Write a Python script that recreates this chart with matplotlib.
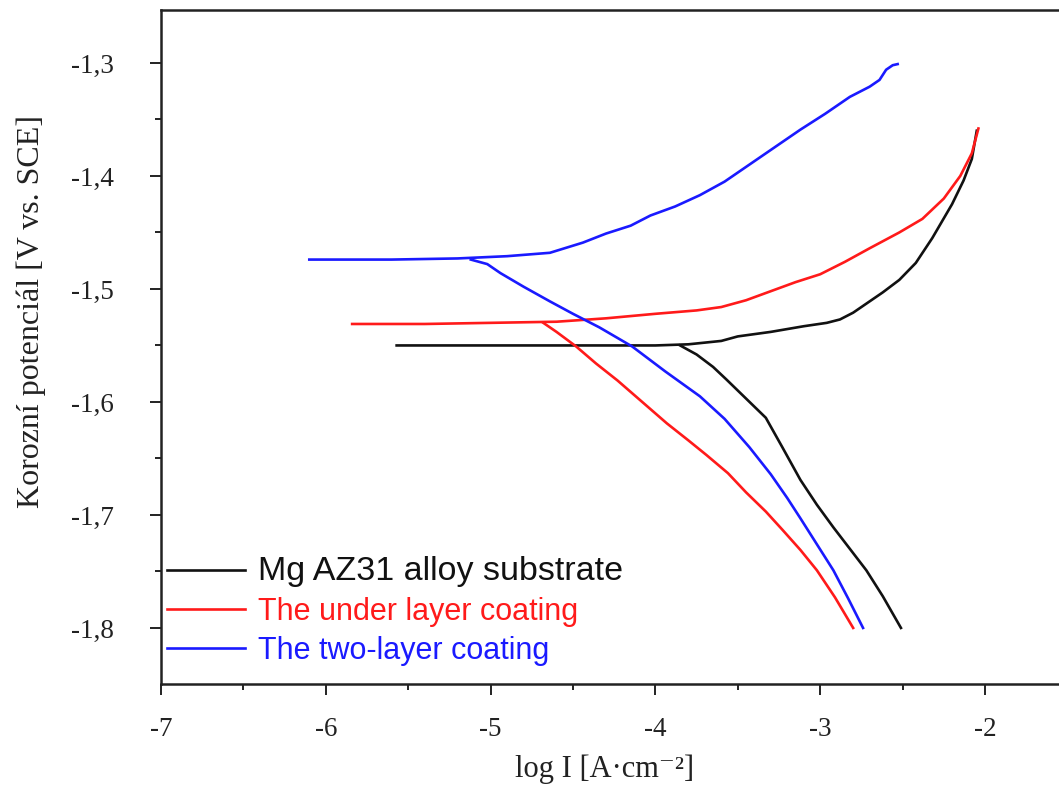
import matplotlib
matplotlib.use("Agg")
import matplotlib.pyplot as plt
from matplotlib.ticker import MultipleLocator, FuncFormatter

# Mg AZ31 alloy substrate
black_an_x = [-5.57, -5.0, -4.5, -4.0, -3.8, -3.6, -3.5, -3.3, -3.1, -2.96, -2.88, -2.8,
              -2.72, -2.62, -2.52, -2.42, -2.32, -2.2, -2.13, -2.08, -2.05]
black_an_y = [-1.550, -1.550, -1.550, -1.550, -1.549, -1.546, -1.542, -1.538, -1.533,
              -1.530, -1.527, -1.521, -1.513, -1.503, -1.492, -1.477, -1.455, -1.425,
              -1.404, -1.385, -1.360]
black_ca_x = [-3.85, -3.75, -3.65, -3.57, -3.45, -3.33, -3.23, -3.12, -3.02, -2.92,
              -2.82, -2.72, -2.62, -2.51]
black_ca_y = [-1.550, -1.558, -1.569, -1.580, -1.597, -1.614, -1.640, -1.669, -1.691,
              -1.711, -1.730, -1.749, -1.772, -1.800]

# under layer coating
red_an_x = [-5.84, -5.4, -5.0, -4.6, -4.3, -4.0, -3.75, -3.6, -3.45, -3.3, -3.15, -3.0,
            -2.85, -2.7, -2.52, -2.38, -2.25, -2.15, -2.08, -2.04]
red_an_y = [-1.531, -1.531, -1.530, -1.529, -1.526, -1.522, -1.519, -1.516, -1.510,
            -1.502, -1.494, -1.487, -1.476, -1.464, -1.450, -1.438, -1.420, -1.400,
            -1.380, -1.358]
red_ca_x = [-4.68, -4.60, -4.48, -4.36, -4.23, -4.08, -3.93, -3.80, -3.69, -3.56, -3.45,
            -3.33, -3.23, -3.12, -3.02, -2.91, -2.80]
red_ca_y = [-1.530, -1.538, -1.551, -1.566, -1.581, -1.600, -1.619, -1.634, -1.647,
            -1.663, -1.680, -1.697, -1.713, -1.731, -1.749, -1.773, -1.800]

# two-layer coating
blue_an_x = [-6.10, -5.6, -5.2, -4.9, -4.64, -4.44, -4.3, -4.15, -4.03, -3.88, -3.73,
             -3.58, -3.43, -3.28, -3.12, -2.97, -2.82, -2.70, -2.64, -2.60, -2.56, -2.53]
blue_an_y = [-1.474, -1.474, -1.473, -1.471, -1.468, -1.459, -1.451, -1.444, -1.435,
             -1.427, -1.417, -1.405, -1.390, -1.375, -1.359, -1.345, -1.330, -1.321,
             -1.315, -1.306, -1.302, -1.301]
blue_ca_x = [-5.12, -5.02, -4.94, -4.80, -4.64, -4.50, -4.34, -4.14, -3.94, -3.73, -3.58,
             -3.43, -3.30, -3.20, -3.12, -3.02, -2.92, -2.83, -2.74]
blue_ca_y = [-1.474, -1.478, -1.486, -1.498, -1.511, -1.522, -1.534, -1.551, -1.573,
             -1.595, -1.615, -1.640, -1.664, -1.685, -1.703, -1.726, -1.749, -1.774, -1.800]

labels = ["Mg AZ31 alloy substrate", "The under layer coating", "The two-layer coating"]
colors = ["#111111", "#ff1a1a", "#1a1aff"]

plt.rcParams["axes.unicode_minus"] = False
serif = ["Liberation Serif", "DejaVu Serif"]

fig = plt.figure(figsize=(10.59, 7.91), dpi=100)
ax = fig.add_axes([0.152, 0.1353, 0.848, 0.8521])

series = [(black_an_x, black_an_y, black_ca_x, black_ca_y),
          (red_an_x, red_an_y, red_ca_x, red_ca_y),
          (blue_an_x, blue_an_y, blue_ca_x, blue_ca_y)]
handles = []
for (ax_, ay_, cx_, cy_), lab, c in zip(series, labels, colors):
    h, = ax.plot(ax_, ay_, color=c, lw=1.9, label=lab)
    ax.plot(cx_, cy_, color=c, lw=1.9)
    handles.append(h)

ax.set_xlim(-7, -1.551)
ax.set_ylim(-1.8496, -1.2531)

ax.xaxis.set_major_locator(MultipleLocator(1))
ax.xaxis.set_minor_locator(MultipleLocator(0.5))
ax.yaxis.set_major_locator(MultipleLocator(0.1))
ax.yaxis.set_minor_locator(MultipleLocator(0.05))
ax.xaxis.set_major_formatter(FuncFormatter(lambda v, p: "%d" % round(v)))
ax.yaxis.set_major_formatter(FuncFormatter(lambda v, p: ("%.1f" % v).replace(".", ",")))

for s in ["left", "bottom", "top"]:
    ax.spines[s].set_linewidth(1.8)
    ax.spines[s].set_color("#222222")
ax.spines["right"].set_visible(False)

ax.tick_params(which="both", direction="out", width=1.4, color="#222222",
               top=False, right=False)
ax.tick_params(which="major", length=8)
ax.tick_params(which="minor", length=4)
ax.tick_params(axis="x", which="major", pad=16)
ax.tick_params(axis="y", which="major", pad=26)
for t in ax.get_xticklabels() + ax.get_yticklabels():
    t.set_fontfamily(serif)
    t.set_fontsize(19.5)
    t.set_color("#222222")

ax.set_xlabel("log I [A\u00b7cm\u207b\u00b2]", fontfamily=serif, fontsize=22,
              color="#222222")
ax.set_ylabel("Korozní potenciál [V vs. SCE]", fontfamily=serif, fontsize=23,
              color="#222222")
ax.xaxis.set_label_coords(0.494, -0.105)
ax.yaxis.set_label_coords(-0.128, 0.553)

leg = ax.legend(handles=handles, loc="lower left", bbox_to_anchor=(0.0, 0.018),
                frameon=False, prop={"family": "Liberation Sans", "size": 22},
                labelcolor="linecolor", handlelength=2.55, handletextpad=0.42,
                labelspacing=0.3, borderaxespad=0.2, borderpad=0.0)
leg.get_texts()[0].set_fontsize(24.5)

fig.savefig("out.png", dpi=100)
